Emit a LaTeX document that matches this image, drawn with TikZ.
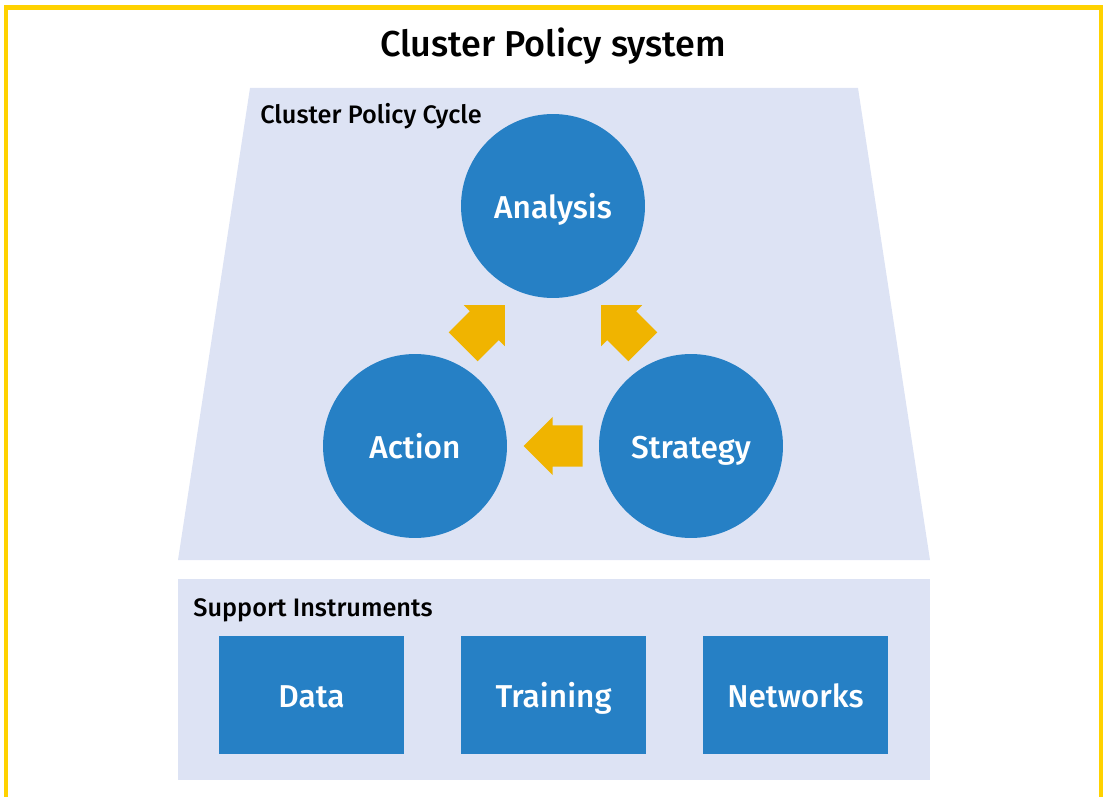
\documentclass[tikz,border=0pt]{standalone}
\usepackage{fontspec}
\setmainfont{Fira Sans}[UprightFont=* Medium]
\usetikzlibrary{calc}

\definecolor{frameyellow}{HTML}{FFD200}
\definecolor{panelblue}{HTML}{DDE3F4}
\definecolor{stageblue}{HTML}{2680C5}
\definecolor{flowgold}{HTML}{F0B400}

\tikzset{
  stage/.style={circle, fill=stageblue, text=white, minimum size=3.68cm, inner sep=0pt,
    text height=14pt, text depth=0pt, font=\fontsize{18}{21}\selectfont},
  tool/.style={rectangle, fill=stageblue, text=white, minimum width=3.7cm, minimum height=2.36cm,
    inner sep=0pt, text height=14pt, text depth=0pt, font=\fontsize{18}{21}\selectfont},
  panellabel/.style={anchor=base west, inner sep=0pt, font=\fontsize{14.4}{17}\selectfont},
  flow/.pic={\fill[flowgold] (-29.5,-20.5) -- (0.5,-20.5) -- (0.5,-29) -- (29.5,0)
    -- (0.5,29) -- (0.5,20.5) -- (-29.5,20.5) -- cycle;}
}

\begin{document}
\begin{tikzpicture}[x=0.02cm, y=-0.02cm]
            \useasboundingbox (0,0) rectangle (1103,797);
            \draw[frameyellow, line width=2.5pt] (6,800) -- (6,7.5) -- (1101,7.5) -- (1101,800);
            \node[anchor=base, inner sep=0pt] (title) at (553,57) {\fontsize{20.5}{25}\selectfont Cluster Policy system};

            \fill[panelblue] (250,88) -- (858,88) -- (930,560) -- (178,560) -- cycle;
            \node[panellabel] (cyclelabel) at (260,124) {Cluster Policy Cycle};
            \node[stage] (analysis) at (553,206) {Analysis};
            \node[stage] (action) at (415,446) {Action};
            \node[stage] (strategy) at (691,446) {Strategy};
            \pic[rotate=45] at ($(action)!0.5!(analysis)$) {flow};
            \pic[rotate=135] at ($(strategy)!0.5!(analysis)$) {flow};
            \pic[rotate=180] at ($(strategy)!0.5!(action)$) {flow};

            \fill[panelblue] (178,579) rectangle (930,780);
            \node[panellabel] (supportlabel) at (193,616) {Support Instruments};
            \node[tool] (data) at (311.5,695) {Data};
            \node[tool] (training) at (553.5,695) {Training};
            \node[tool] (networks) at (795.5,695) {Networks};
        \end{tikzpicture}
\end{document}
